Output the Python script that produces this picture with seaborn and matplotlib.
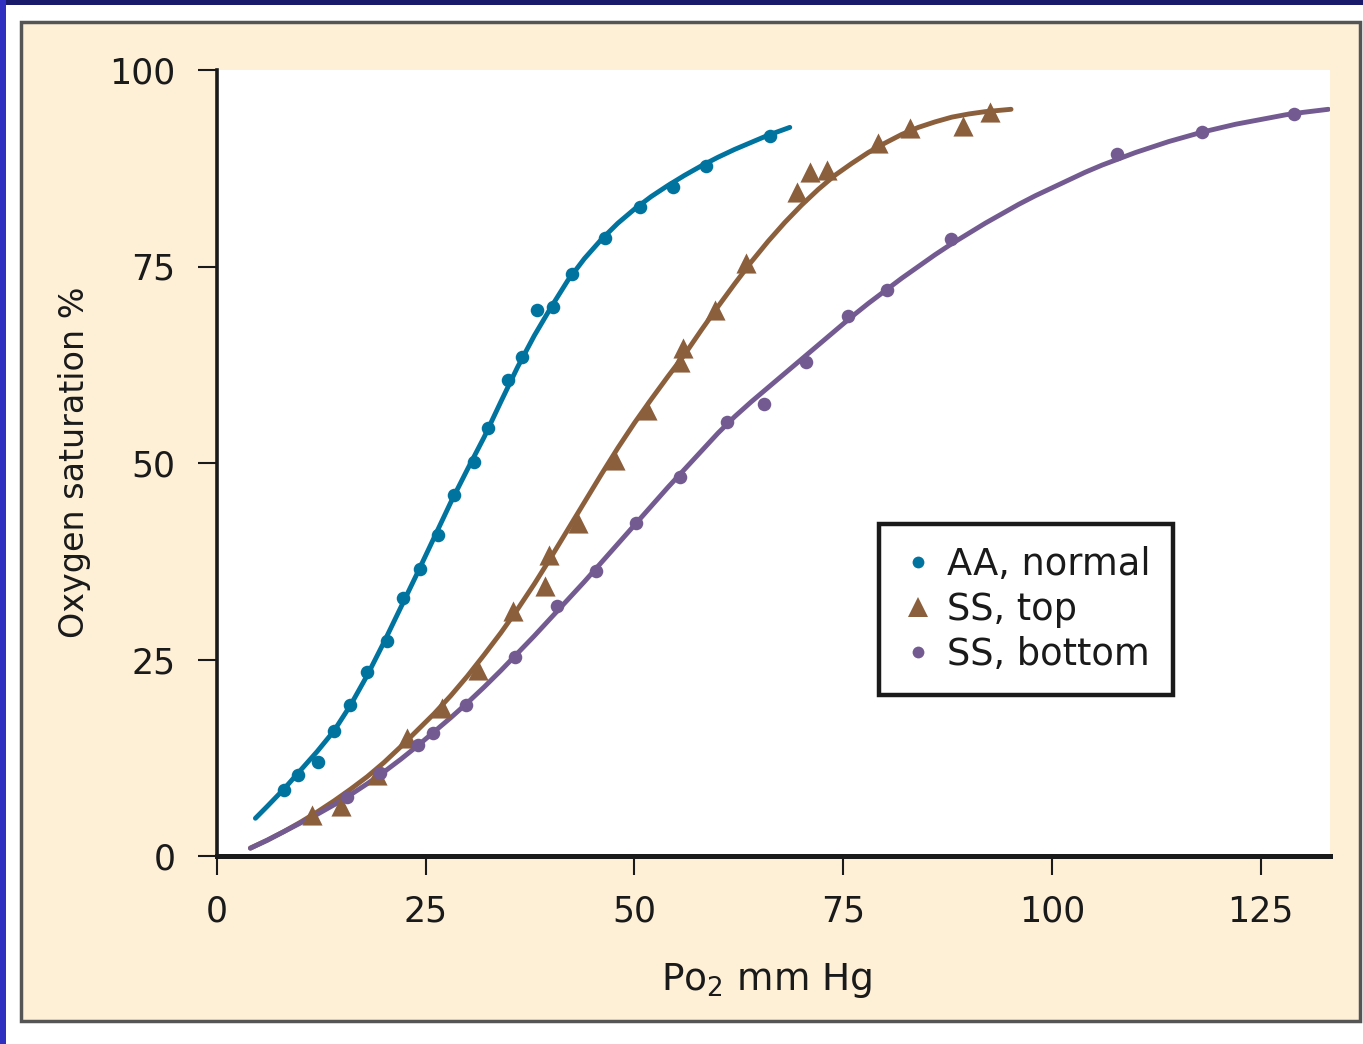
import matplotlib
matplotlib.use("Agg")
import matplotlib.pyplot as plt
from matplotlib.patches import Rectangle
from matplotlib.lines import Line2D
import seaborn as sns
import pandas as pd

# ---------------- data ----------------
aa_x = [8.0, 9.7, 12.1, 14.0, 15.9, 18.0, 20.4, 22.3, 24.3, 26.5, 28.4, 30.8, 32.5,
        34.9, 36.5, 38.3, 40.2, 42.5, 46.5, 50.7, 54.6, 58.6, 66.2]
aa_y = [8.4, 10.3, 12.0, 15.9, 19.2, 23.4, 27.4, 32.8, 36.5, 40.8, 45.9, 50.1, 54.5,
        60.6, 63.5, 69.5, 69.8, 74.0, 78.6, 82.6, 85.1, 87.8, 91.6]

sst_x = [11.4, 14.9, 19.2, 22.8, 26.9, 31.3, 35.5, 39.3, 39.8, 43.2, 47.7, 51.5, 55.4,
         55.8, 59.6, 63.3, 69.5, 71.0, 73.1, 79.2, 83.0, 89.3, 92.6]
sst_y = [5.2, 6.4, 10.3, 15.0, 18.8, 23.7, 31.2, 34.4, 38.3, 42.4, 50.4, 56.7, 62.8,
         64.6, 69.5, 75.4, 84.5, 87.0, 87.3, 90.7, 92.6, 92.9, 94.7]

ssb_x = [15.6, 19.5, 24.1, 25.9, 29.8, 35.7, 40.7, 45.4, 50.2, 55.4, 61.1, 65.5, 70.6,
         75.6, 80.2, 87.9, 107.8, 118.0, 129.0]
ssb_y = [7.5, 10.6, 14.1, 15.6, 19.2, 25.3, 31.8, 36.3, 42.4, 48.2, 55.2, 57.5, 62.8,
         68.7, 72.0, 78.5, 89.3, 92.1, 94.4]

# fitted curves
aa_cx = [4.6, 6, 8, 10, 12, 14, 16, 18, 20, 22, 24, 26, 28, 30, 32, 34, 36, 38, 40, 42,
         44, 46, 48, 50, 52, 54, 56, 58, 60, 62, 64, 66, 68.6]
aa_cy = [4.8, 6.3, 8.5, 10.9, 13.3, 15.9, 19.2, 23.0, 27.2, 31.6, 36.0, 40.5, 45.0, 49.2,
         53.3, 57.8, 62.2, 66.2, 69.8, 73.2, 76.0, 78.4, 80.5, 82.3, 83.9, 85.3, 86.6,
         87.8, 88.9, 89.9, 90.8, 91.7, 92.7]

sst_cx = [4, 6, 8, 10, 12, 14, 16, 18, 20, 22, 24, 26, 28, 30, 32, 34, 36, 38, 40, 42,
          44, 46, 48, 50, 52, 54, 56, 58, 60, 62, 64, 66, 68, 70, 72, 74, 76, 78, 80, 82,
          84, 86, 88, 90, 92, 95.1]
sst_cy = [1.0, 2.0, 3.1, 4.3, 5.6, 7.0, 8.5, 10.1, 11.9, 13.9, 16.0, 18.1, 20.4, 22.9,
          25.6, 28.4, 31.4, 34.6, 38.0, 41.5, 45.0, 48.5, 51.9, 55.1, 58.1, 61.0, 63.8,
          66.9, 69.9, 72.8, 75.6, 78.2, 80.6, 82.8, 84.8, 86.6, 88.1, 89.5, 90.7, 91.8,
          92.7, 93.4, 94.0, 94.4, 94.7, 95.0]

ssb_cx = [4, 6, 8, 10, 12, 14, 16, 18, 20, 22, 24, 26, 28, 30, 32, 34, 36, 38, 40, 42,
          44, 46, 48, 50, 52, 54, 56, 58, 60, 62, 64, 66, 68, 70, 72, 74, 76, 78, 80, 82,
          84, 86, 88, 90, 92, 94, 96, 98, 100, 102, 104, 106, 108, 110, 112, 114, 116,
          118, 120, 122, 124, 126, 128, 130, 133.1]
ssb_cy = [1.0, 2.0, 3.1, 4.2, 5.3, 6.5, 7.8, 9.2, 10.7, 12.3, 14.0, 15.8, 17.6, 19.5,
          21.5, 23.6, 25.8, 28.0, 30.3, 32.6, 34.9, 37.3, 39.7, 42.1, 44.5, 46.9, 49.2,
          51.5, 53.8, 55.9, 57.8, 59.6, 61.4, 63.2, 65.0, 66.8, 68.6, 70.3, 71.9, 73.5,
          75.0, 76.5, 77.9, 79.2, 80.5, 81.7, 82.9, 84.0, 85.0, 86.0, 87.0, 87.9, 88.7,
          89.5, 90.2, 90.9, 91.5, 92.1, 92.6, 93.1, 93.5, 93.9, 94.3, 94.6, 95.0]

labels = ["AA, normal", "SS, top", "SS, bottom"]
x_ticks = [0, 25, 50, 75, 100, 125]
y_ticks = [0, 25, 50, 75, 100]

# ---------------- style ----------------
BLUE = "#00739f"
BROWN = "#8c5f3c"
PURPLE = "#735a91"
CREAM = "#fef0d7"

sns.set_style("white")
plt.rcParams["font.family"] = ["DejaVu Sans"]

W, H = 1363, 1044
fig = plt.figure(figsize=(W / 100, H / 100), dpi=100)
fig.patch.set_facecolor("white")

# frame decorations (behind the axes)
fig.patches.append(Rectangle((0, 1 - 5 / H), 1, 5 / H, transform=fig.transFigure,
                             facecolor="#1a1a6a", edgecolor="none", zorder=-10))
fig.patches.append(Rectangle((0, 0), 6 / W, 1, transform=fig.transFigure,
                             facecolor="#3030c0", edgecolor="none", zorder=-10))
fig.patches.append(Rectangle((20.5 / W, 1 - 1021 / H), (1360 - 20.5) / W, (1021 - 22) / H,
                             transform=fig.transFigure, facecolor=CREAM,
                             edgecolor="#555555", linewidth=2.5, zorder=-10))

ax = fig.add_axes([217 / W, 1 - 856 / H, (1330 - 217) / W, (856 - 70) / H])
ax.set_facecolor("white")

curves = [(aa_cx, aa_cy, BLUE), (sst_cx, sst_cy, BROWN), (ssb_cx, ssb_cy, PURPLE)]
for cx, cy, col in curves:
    df = pd.DataFrame({"x": cx, "y": cy})
    sns.lineplot(data=df, x="x", y="y", ax=ax, color=col, linewidth=3.5,
                 sort=False, estimator=None, zorder=2)

pts = [(aa_x, aa_y, BLUE, "o", 95), (sst_x, sst_y, BROWN, "^", 210),
       (ssb_x, ssb_y, PURPLE, "o", 95)]
for px, py, col, mk, s in pts:
    df = pd.DataFrame({"x": px, "y": py})
    sns.scatterplot(data=df, x="x", y="y", ax=ax, color=col, marker=mk, s=s,
                    linewidth=0, zorder=3, legend=False)

ax.set_xlim(0, 133.3)
ax.set_ylim(0, 100)
ax.set_xticks(x_ticks)
ax.set_yticks(y_ticks)
ax.set_xticklabels([str(t) for t in x_ticks])
ax.set_yticklabels([str(t) for t in y_ticks])

for side in ["top", "right"]:
    ax.spines[side].set_visible(False)
ax.spines["left"].set_linewidth(2.6)
ax.spines["bottom"].set_linewidth(3.6)
ax.spines["left"].set_color("#1a1a1a")
ax.spines["bottom"].set_color("#1a1a1a")

ax.tick_params(axis="both", which="major", direction="out", length=14, width=1.5,
               color="#1a1a1a", labelsize=25, labelcolor="#1a1a1a")
ax.tick_params(axis="y", pad=16, left=True)
ax.tick_params(axis="x", pad=14, bottom=True)

ax.set_xlabel(r"P$\mathregular{o_2}$ mm Hg", fontsize=27, color="#1a1a1a")
ax.set_ylabel("Oxygen saturation %", fontsize=24, color="#1a1a1a")
ax.xaxis.label.set_va("center")
ax.yaxis.label.set_va("center")
ax.xaxis.set_label_coords((767 - 217) / 1113, (856 - 980) / 786)
ax.yaxis.set_label_coords((75 - 217) / 1113, (856 - 462) / 786)

handles = [Line2D([], [], linestyle="", marker="o", color=BLUE, markersize=8.5,
                  markeredgewidth=0),
           Line2D([], [], linestyle="", marker="^", color=BROWN, markersize=14,
                  markeredgewidth=0),
           Line2D([], [], linestyle="", marker="o", color=PURPLE, markersize=8.5,
                  markeredgewidth=0)]
leg = ax.legend(handles, labels, loc="upper left",
                bbox_to_anchor=((879 - 217) / 1113, (856 - 524) / 786),
                borderaxespad=0, fontsize=26.5, frameon=True, fancybox=False,
                edgecolor="#1a1a1a", facecolor="white", framealpha=1,
                handlelength=0.9, handletextpad=0.35, borderpad=0.6,
                labelspacing=0.22)
leg.get_frame().set_linewidth(3.2)
for t in leg.get_texts():
    t.set_color("#1a1a1a")

fig.savefig("out.png", dpi=100)
